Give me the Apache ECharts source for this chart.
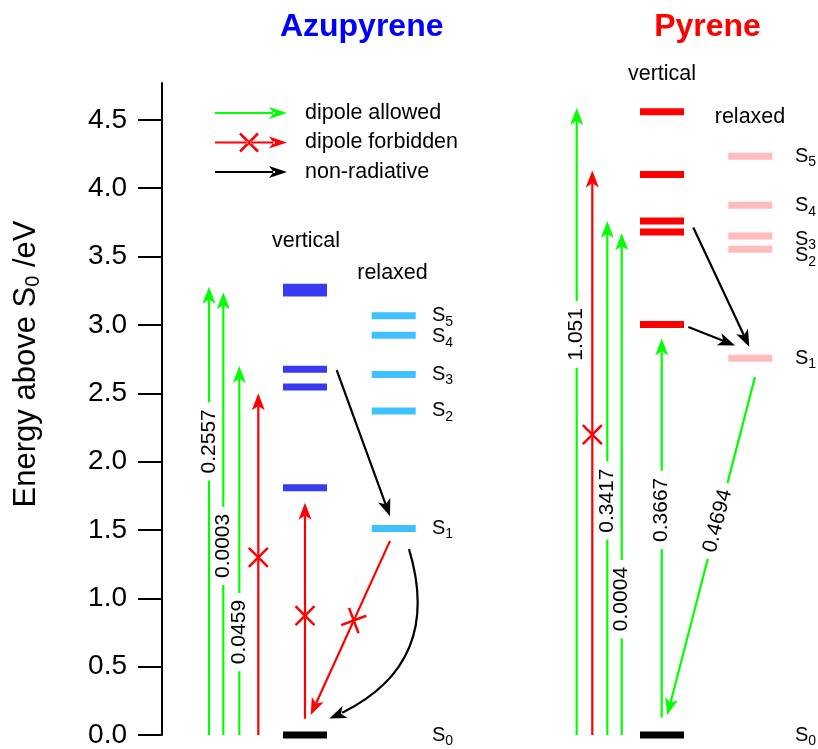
<!DOCTYPE html>
<html>
<head>
<meta charset="utf-8">
<title>Azupyrene and pyrene excited states</title>
<script src="https://cdn.jsdelivr.net/npm/echarts@6/dist/echarts.min.js"></script>
<style>
  html, body { margin: 0; padding: 0; background: #fff; }
  #chart { width: 818px; height: 749px; }
</style>
</head>
<body>
<div id="chart"></div>
<script>
const FONT = "'Liberation Sans', Arial, Helvetica, sans-serif";

// Excitation energies above S0 (eV), ordered S1..S5
const stateIndex  = ['1', '2', '3', '4', '5'];
const azuVertical = [1.808, 2.546, 2.675, 3.233, 3.276];
const azuRelaxed  = [1.510, 2.371, 2.638, 2.924, 3.068];
const pyrVertical = [3.004, 3.680, 3.760, 4.100, 4.560];
const pyrRelaxed  = [2.757, 3.553, 3.650, 3.876, 4.235];

// Absorptions from S0, drawn as a fan of arrows left of each molecule
const azuAbsEnergy   = [3.28, 3.24, 2.70, 2.50];
const azuAbsStrength = ['0.2557', '0.0003', '0.0459', ''];
const azuAbsType     = ['allowed', 'allowed', 'allowed', 'forbidden'];
const pyrAbsEnergy   = [4.587, 4.13, 3.76, 3.67];
const pyrAbsStrength = ['1.051', '', '0.3417', '0.0004'];
const pyrAbsType     = ['allowed', 'forbidden', 'allowed', 'allowed'];

// S0 <-> S1 transitions and relaxation paths: [start eV, end eV]
const azuS1Absorption = [0.12, 1.70];
const azuS1Emission   = [1.42, 0.146];
const azuRelaxToS1    = [2.67, 1.60];
const azuS1ToS0       = [1.36, 0.12];
const pyrS1Absorption = [0.128, 2.90];
const pyrS1Emission   = [2.62, 0.146];
const pyrRelaxToS1A   = [2.985, 2.85];
const pyrRelaxToS1B   = [3.713, 2.84];
const pyrS1Strengths  = ['0.3667', '0.4694'];   // absorption, emission

const yTicks = [0, 0.5, 1.0, 1.5, 2.0, 2.5, 3.0, 3.5, 4.0, 4.5];

// ---- layout (plot units along x, 0 = energy axis) ----
const X = {
  azuFan: [47, 61.3, 77.3, 96.3],
  azuVert: [121, 165], azuVertMid: 143,
  azuRelax: [209.7, 253.7], azuRelaxS1: 228, azuRelaxS1Edge: 247,
  azuEmisEnd: 148.7, azuIcStart: 174.7, azuIcEnd: 167.3,
  azuLabel: 270,
  pyrFan: [414.7, 430.3, 445.3, 459.7],
  pyrVert: [478, 522], pyrVertMid: 499.7,
  pyrRelax: [566.3, 610.3],
  pyrEmisStart: 593, pyrEmisEnd: 505.3,
  pyrIcA: [526.3, 573], pyrIcB: [531.3, 587.3],
  pyrLabel: 633
};
// pixel nudges that keep crowded state labels apart
const azuLabelNudge = [0, 0, 0, 1.5, 0];
const pyrLabelNudge = [0, 6.5, 3, 0.5, 0];
// where along each arrow its strength label / forbidden cross sits (0..1)
const azuFanMarkAt = [0.655, 0.427, 0.279, 0.52];
const pyrFanMarkAt = [0.639, 0.532, 0.456, 0.271];

const COLORS = {
  allowed: '#00ff00', forbidden: '#ff0000', nonrad: '#000000',
  azuVert: '#3a3af0', azuRelax: '#40c0ff',
  pyrVert: '#ff0000', pyrRelax: '#ffbcbc'
};

// ---- transitions grouped by kind ----
const transitions = { allowed: [], forbidden: [], nonrad: [] };
function addArrow(kind, from, to, text, at, bend) {
  transitions[kind].push({ from, to, text: text || '', at: at || 0, bend: bend || 0 });
}
azuAbsEnergy.forEach((e, i) =>
  addArrow(azuAbsType[i], [X.azuFan[i], 0], [X.azuFan[i], e], azuAbsStrength[i], azuFanMarkAt[i]));
pyrAbsEnergy.forEach((e, i) =>
  addArrow(pyrAbsType[i], [X.pyrFan[i], 0], [X.pyrFan[i], e], pyrAbsStrength[i], pyrFanMarkAt[i]));
addArrow('forbidden', [X.azuVertMid, azuS1Absorption[0]], [X.azuVertMid, azuS1Absorption[1]], '', 0.477);
addArrow('forbidden', [X.azuRelaxS1, azuS1Emission[0]], [X.azuEmisEnd, azuS1Emission[1]], '', 0.457);
addArrow('nonrad', [X.azuIcStart, azuRelaxToS1[0]], [X.azuRelaxS1, azuRelaxToS1[1]]);
addArrow('nonrad', [X.azuRelaxS1Edge, azuS1ToS0[0]], [X.azuIcEnd, azuS1ToS0[1]], '', 0, 0.45);
addArrow('allowed', [X.pyrVertMid, pyrS1Absorption[0]], [X.pyrVertMid, pyrS1Absorption[1]], pyrS1Strengths[0], 0.548);
addArrow('allowed', [X.pyrEmisStart, pyrS1Emission[0]], [X.pyrEmisEnd, pyrS1Emission[1]], pyrS1Strengths[1], 0.426);
addArrow('nonrad', [X.pyrIcA[0], pyrRelaxToS1A[0]], [X.pyrIcA[1], pyrRelaxToS1A[1]]);
addArrow('nonrad', [X.pyrIcB[0], pyrRelaxToS1B[0]], [X.pyrIcB[1], pyrRelaxToS1B[1]]);

const HEAD_L = 17, HEAD_W = 6.5, NOTCH = HEAD_L * 0.75, CROSS = 9.5, SHAFT = 2.2;

function unit(dx, dy) { const l = Math.hypot(dx, dy) || 1; return [dx / l, dy / l]; }
function lerp(p, q, t) { return [p[0] + (q[0] - p[0]) * t, p[1] + (q[1] - p[1]) * t]; }

function arrowSeries(name, kind) {
  const list = transitions[kind];
  const color = COLORS[kind];
  return {
    type: 'custom', name, coordinateSystem: 'cartesian2d', z: 5, silent: true,
    itemStyle: { color },
    data: list.map(t => [t.from[0], t.from[1], t.to[0], t.to[1]]),
    encode: { x: [0, 2], y: [1, 3] },
    renderItem(params, api) {
      const tr = list[params.dataIndex];
      const a = api.coord([api.value(0), api.value(1)]);
      const b = api.coord([api.value(2), api.value(3)]);
      const kids = [];
      let dir, shaft;
      if (tr.bend) {
        const cp = [(a[0] + b[0]) / 2 - (a[1] - b[1]) * tr.bend,
                    (a[1] + b[1]) / 2 - (b[0] - a[0]) * tr.bend];
        dir = unit(b[0] - cp[0], b[1] - cp[1]);
        const len = (Math.hypot(cp[0] - a[0], cp[1] - a[1]) + Math.hypot(b[0] - cp[0], b[1] - cp[1]) +
                     Math.hypot(b[0] - a[0], b[1] - a[1])) / 2;
        const t = 1 - NOTCH / len;
        const q1 = lerp(a, cp, t);
        const q2 = lerp(q1, lerp(cp, b, t), t);
        shaft = { type: 'bezierCurve',
          shape: { x1: a[0], y1: a[1], x2: q2[0], y2: q2[1], cpx1: q1[0], cpy1: q1[1] },
          style: { stroke: color, lineWidth: SHAFT, fill: null } };
      } else {
        dir = unit(b[0] - a[0], b[1] - a[1]);
        const end = [b[0] - dir[0] * NOTCH, b[1] - dir[1] * NOTCH];
        shaft = { type: 'line', shape: { x1: a[0], y1: a[1], x2: end[0], y2: end[1] },
          style: { stroke: color, lineWidth: SHAFT } };
      }
      kids.push(shaft);
      const nx = -dir[1], ny = dir[0];
      const base = [b[0] - dir[0] * HEAD_L, b[1] - dir[1] * HEAD_L];
      const notch = [b[0] - dir[0] * NOTCH, b[1] - dir[1] * NOTCH];
      kids.push({ type: 'polygon',
        shape: { points: [b, [base[0] + nx * HEAD_W, base[1] + ny * HEAD_W], notch,
                          [base[0] - nx * HEAD_W, base[1] - ny * HEAD_W]] },
        style: { fill: color } });

      if (!tr.bend && tr.at) {
        const m = lerp(a, b, tr.at);
        const ang = Math.atan2(-(b[1] - a[1]), b[0] - a[0]);
        if (kind === 'forbidden') {
          kids.push({ type: 'group', x: m[0], y: m[1], rotation: ang, children: [
            { type: 'line', shape: { x1: -CROSS, y1: -CROSS, x2: CROSS, y2: CROSS }, style: { stroke: color, lineWidth: 2.5 } },
            { type: 'line', shape: { x1: -CROSS, y1: CROSS, x2: CROSS, y2: -CROSS }, style: { stroke: color, lineWidth: 2.5 } }
          ] });
        } else if (tr.text) {
          let rot = ang;
          if (rot > Math.PI / 2) rot -= Math.PI;
          if (rot <= -Math.PI / 2) rot += Math.PI;
          kids.push({ type: 'text', x: m[0], y: m[1], rotation: rot, z2: 10,
            style: { text: tr.text, fill: '#000', fontSize: 21, fontFamily: FONT,
                     align: 'center', verticalAlign: 'middle',
                     backgroundColor: '#fff', padding: [0, 7] } });
        }
      }
      return { type: 'group', children: kids };
    }
  };
}

function levelSeries(name, color, span, energies, labelX, labels, nudge) {
  return {
    type: 'custom', name, coordinateSystem: 'cartesian2d', z: 3, silent: true,
    itemStyle: { color },
    data: energies.map(e => [span[0], span[1], e]),
    encode: { x: [0, 1], y: 2 },
    renderItem(params, api) {
      const e = api.value(2);
      const a = api.coord([api.value(0), e]);
      const b = api.coord([api.value(1), e]);
      const kids = [{ type: 'rect', shape: { x: a[0], y: a[1] - 3.5, width: b[0] - a[0], height: 7 },
                      style: { fill: color } }];
      if (labels) {
        const p = api.coord([labelX, e]);
        const dy = nudge ? nudge[params.dataIndex] : 0;
        kids.push({ type: 'text', x: p[0], y: p[1] + dy,
          style: { text: '{s|S}{n|' + labels[params.dataIndex] + '}',
                   align: 'left', verticalAlign: 'middle',
                   rich: {
                     s: { fontSize: 20, fontFamily: FONT, lineHeight: 26, fill: '#000' },
                     n: { fontSize: 14, fontFamily: FONT, lineHeight: 14, fill: '#000', padding: [12, 0, 0, 0] }
                   } } });
      }
      return { type: 'group', children: kids };
    }
  };
}

// legend icons: arrow (and cross) inside an 85 x 20 box
function strip(x1, y1, x2, y2, w) {
  const d = unit(x2 - x1, y2 - y1), h = w / 2;
  const px = -d[1] * h, py = d[0] * h;
  return `M${x1 + px} ${y1 + py}L${x2 + px} ${y2 + py}L${x2 - px} ${y2 - py}L${x1 - px} ${y1 - py}Z`;
}
const ICON_BOX = 'M0 0h.01v.01H0zM85 20h-.01v-.01H85z';
const ICON_ARROW = 'M0 9h60v2H0zM72 10L54 4L58.5 10L54 16z';
const ICON_CROSS = strip(25, 1, 43, 19, 2.5) + strip(43, 1, 25, 19, 2.5);

const option = {
  backgroundColor: '#fff',
  animation: false,
  title: [
    { text: 'Azupyrene', left: 361.7, top: 11, textAlign: 'center', padding: 0,
      textStyle: { color: '#0000ff', fontSize: 32, fontWeight: 'bold', fontFamily: FONT } },
    { text: 'Pyrene', left: 707.5, top: 11, textAlign: 'center', padding: 0,
      textStyle: { color: '#ff0000', fontSize: 32, fontWeight: 'bold', fontFamily: FONT } }
  ],
  legend: {
    orient: 'vertical', left: 215, top: 102, padding: 0,
    itemWidth: 85, itemHeight: 20, itemGap: 7.5, selectedMode: false,
    textStyle: { fontSize: 21.5, fontFamily: FONT, color: '#000' },
    data: [
      { name: 'dipole allowed', icon: 'path://' + ICON_BOX + ICON_ARROW,
        itemStyle: { color: COLORS.allowed, borderWidth: 0 } },
      { name: 'dipole forbidden', icon: 'path://' + ICON_BOX + ICON_ARROW + ICON_CROSS,
        itemStyle: { color: COLORS.forbidden, borderWidth: 0 } },
      { name: 'non-radiative', icon: 'path://' + ICON_BOX + ICON_ARROW,
        itemStyle: { color: COLORS.nonrad, borderWidth: 0 } }
    ]
  },
  graphic: [
    { type: 'text', x: 306, y: 240.8, style: { text: 'vertical', font: `21.5px ${FONT}`, fill: '#000', align: 'center', verticalAlign: 'middle' } },
    { type: 'text', x: 392.5, y: 273.2, style: { text: 'relaxed', font: `21.5px ${FONT}`, fill: '#000', align: 'center', verticalAlign: 'middle' } },
    { type: 'text', x: 662, y: 74.2, style: { text: 'vertical', font: `21.5px ${FONT}`, fill: '#000', align: 'center', verticalAlign: 'middle' } },
    { type: 'text', x: 750, y: 117.5, style: { text: 'relaxed', font: `21.5px ${FONT}`, fill: '#000', align: 'center', verticalAlign: 'middle' } }
  ],
  grid: { left: 162, right: 0, top: 83, bottom: 10.7, containLabel: false },
  xAxis: { type: 'value', min: 0, max: 656, show: false, splitLine: { show: false } },
  yAxis: {
    type: 'value', min: 0, max: 4.77,
    axisLine: { show: true, onZero: false, lineStyle: { color: '#000', width: 2 } },
    axisTick: { show: true, inside: false, length: 24, customValues: yTicks,
                lineStyle: { color: '#000', width: 2 } },
    axisLabel: { customValues: yTicks, formatter: v => v.toFixed(1), margin: 35,
                 fontSize: 28, fontFamily: FONT, color: '#000' },
    splitLine: { show: false },
    name: '{t|Energy above S}{s|0}{t| /eV}',
    nameLocation: 'middle', nameGap: 118,
    nameTextStyle: {
      padding: [0, 0, 0, 90],
      rich: {
        t: { fontSize: 31, fontFamily: FONT, color: '#000', lineHeight: 36 },
        s: { fontSize: 20, fontFamily: FONT, color: '#000', lineHeight: 20, padding: [14, 0, 0, 0] }
      }
    }
  },
  series: [
    levelSeries('Azupyrene vertical', COLORS.azuVert, X.azuVert, azuVertical),
    levelSeries('Azupyrene relaxed', COLORS.azuRelax, X.azuRelax, azuRelaxed, X.azuLabel, stateIndex, azuLabelNudge),
    levelSeries('Azupyrene S0', '#000', X.azuVert, [0], X.azuLabel, ['0']),
    levelSeries('Pyrene vertical', COLORS.pyrVert, X.pyrVert, pyrVertical),
    levelSeries('Pyrene relaxed', COLORS.pyrRelax, X.pyrRelax, pyrRelaxed, X.pyrLabel, stateIndex, pyrLabelNudge),
    levelSeries('Pyrene S0', '#000', X.pyrVert, [0], X.pyrLabel, ['0']),
    arrowSeries('dipole allowed', 'allowed'),
    arrowSeries('dipole forbidden', 'forbidden'),
    arrowSeries('non-radiative', 'nonrad')
  ]
};

const chart = echarts.init(document.getElementById('chart'), null, { renderer: 'canvas' });
chart.setOption(option);
</script>
</body>
</html>
